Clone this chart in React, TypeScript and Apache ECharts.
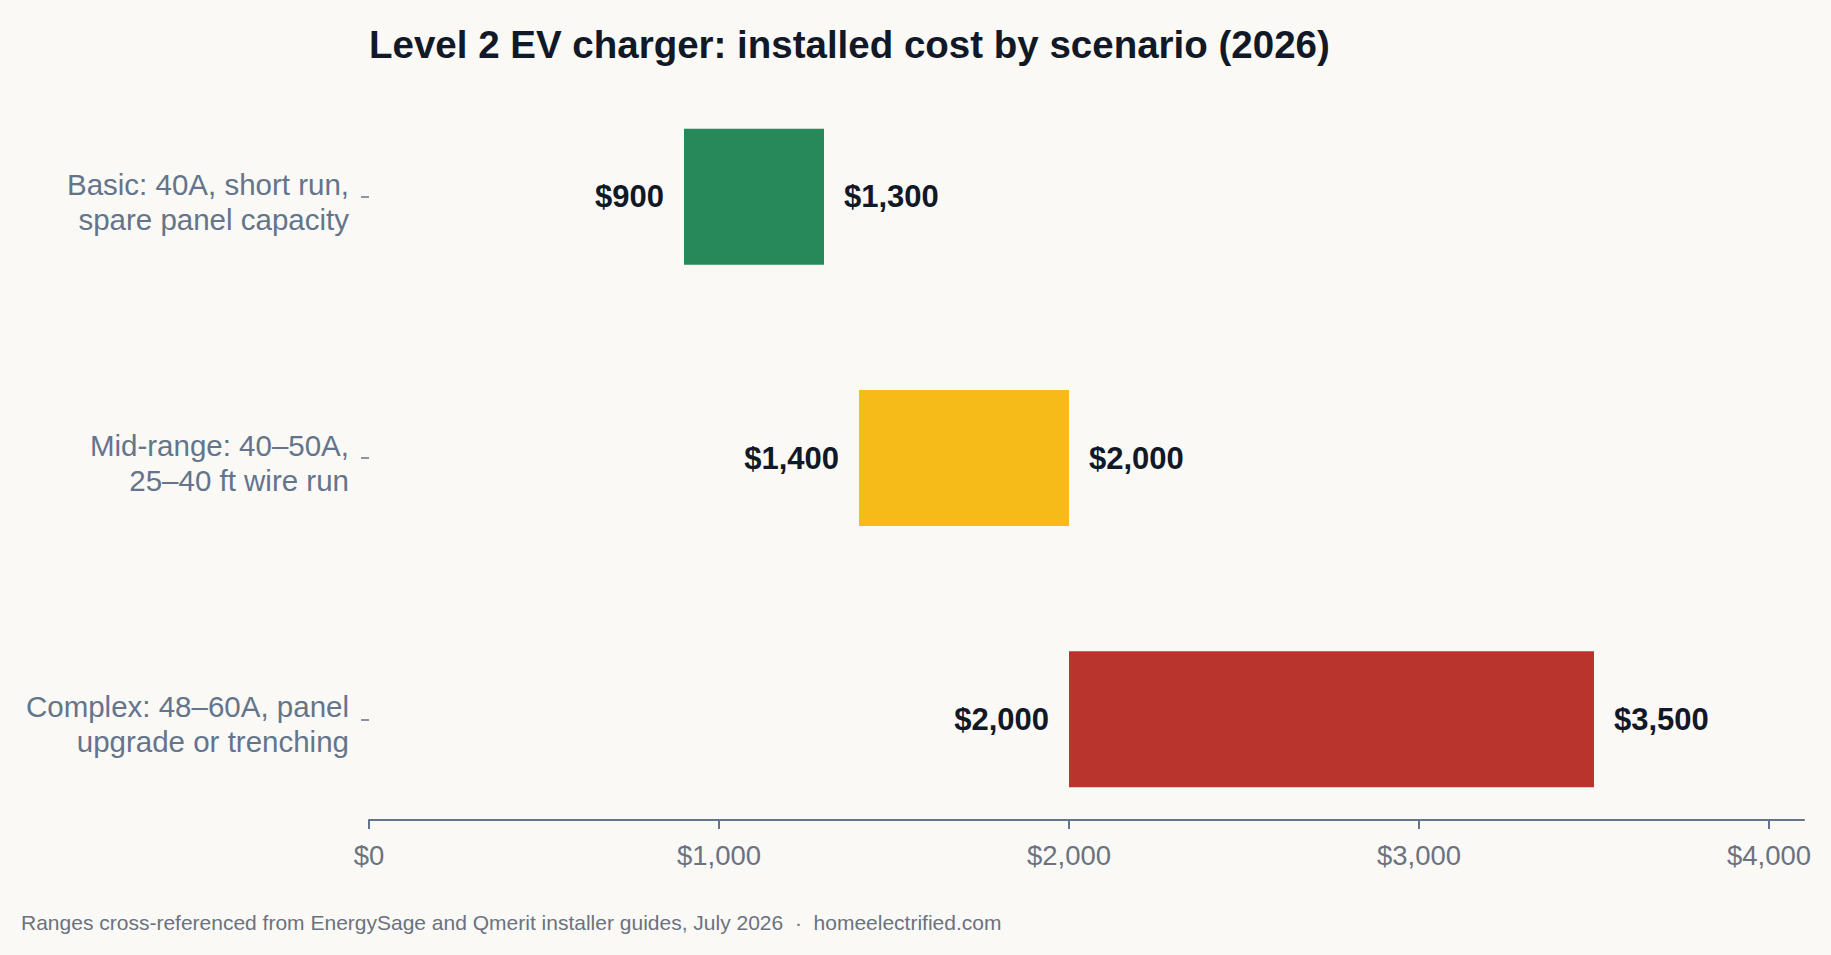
import React, { useEffect, useRef } from "react";
import * as echarts from "echarts";

const FONT = "'Liberation Sans', Arial, Helvetica, sans-serif";

const titleText = "Level 2 EV charger: installed cost by scenario (2026)";
const footnoteText =
  "Ranges cross-referenced from EnergySage and Qmerit installer guides, July 2026\u00a0\u00a0·\u00a0\u00a0homeelectrified.com";

const categories = [
  "Basic: 40A, short run,\nspare panel capacity",
  "Mid-range: 40–50A,\n25–40 ft wire run",
  "Complex: 48–60A, panel\nupgrade or trenching",
];
const lowCost = [900, 1400, 2000];
const highCost = [1300, 2000, 3500];
const barColors = ["#27895a", "#f6bb18", "#b8342c"];
const xTickValues = [0, 1000, 2000, 3000, 4000];

const fmt = (v: number) => "$" + Number(v).toLocaleString("en-US");

export default function App() {
  const ref = useRef<HTMLDivElement>(null);

  useEffect(() => {
    if (!ref.current) return;
    const chart = echarts.init(ref.current, undefined, { renderer: "svg" });
    const valueLabel = {
      show: true,
      fontSize: 31,
      fontWeight: "bold" as const,
      color: "#111827",
      fontFamily: FONT,
      distance: 20,
    };
    const catStyle = { color: "#64748b", fontSize: 29.5, lineHeight: 35, fontFamily: FONT, align: "right" };
    const option: any = {
      animation: false,
      backgroundColor: "#faf9f5",
      textStyle: { fontFamily: FONT },
      title: {
        text: titleText,
        left: 369,
        top: 25,
        padding: 0,
        textStyle: { fontSize: 38.5, fontWeight: "bold", color: "#111827", fontFamily: FONT },
      },
      graphic: [
        {
          type: "text",
          left: 21,
          top: 912,
          style: { text: footnoteText, fontSize: 21, fill: "#6b7280", fontFamily: FONT },
        },
      ],
      grid: { left: 369, right: 27, top: 66, bottom: 105 },
      xAxis: {
        type: "value",
        min: 0,
        max: 4100,
        interval: 1000,
        offset: -30,
        axisLine: { show: true, lineStyle: { color: "#64748b", width: 2 } },
        axisTick: { show: true, length: 9, customValues: xTickValues, lineStyle: { color: "#64748b", width: 2 } },
        axisLabel: {
          customValues: xTickValues,
          formatter: (v: number) => (v % 1000 === 0 ? fmt(v) : ""),
          color: "#6b7280",
          fontSize: 27.5,
          margin: 21,
          fontFamily: FONT,
        },
        splitLine: { show: false },
      },
      yAxis: {
        type: "category",
        inverse: true,
        data: categories,
        axisLine: { show: false },
        axisTick: { show: true, alignWithLabel: true, length: 8, lineStyle: { color: "#64748b", width: 1.5 } },
        axisLabel: {
          ...catStyle,
          margin: 20,
          formatter: (v: string) =>
            "{s| }\n" + v.split("\n").map((line) => "{t|" + line + "}").join("\n"),
          rich: {
            s: { fontSize: 1, lineHeight: 10, align: "right" },
            t: { ...catStyle },
          },
        },
      },
      series: [
        {
          type: "bar",
          stack: "range",
          barWidth: 136,
          silent: true,
          data: lowCost,
          itemStyle: { color: "rgba(0,0,0,0)" },
          label: { ...valueLabel, position: "insideRight", formatter: (p: any) => fmt(p.value) },
        },
        {
          type: "bar",
          stack: "range",
          barWidth: 136,
          data: highCost.map((h, i) => ({ value: h - lowCost[i], itemStyle: { color: barColors[i] } })),
          label: { ...valueLabel, position: "right", formatter: (p: any) => fmt(highCost[p.dataIndex]) },
        },
      ],
    };
    chart.setOption(option);
    return () => chart.dispose();
  }, []);

  return (
    <div
      ref={ref}
      style={{ position: "fixed", left: 0, top: 0, width: "100vw", height: "100vh", background: "#faf9f5" }}
    />
  );
}
